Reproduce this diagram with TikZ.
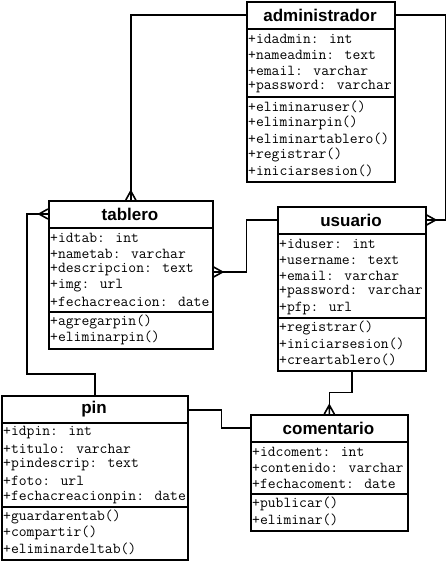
\documentclass[tikz,border=0pt]{standalone}
\usepackage{fontspec}
\newfontfamily\titlefam{Liberation Sans}
\usetikzlibrary{calc}
\tikzset{
  box/.style={draw, line width=1.6pt, inner sep=0pt, fill=white},
  sepline/.style={line width=1.6pt},
  conn/.style={line width=1.6pt},
  ctitle/.style={inner sep=0pt, font=\titlefam\bfseries\fontsize{17}{18}\selectfont},
  row/.style={anchor=west, inner sep=0pt, inner xsep=2pt, font=\ttfamily\fontsize{15.2}{16}\selectfont},
  crow/.pic={\draw[conn] (0,5) -- (9,0) -- (0,-5) (9,0) -- (0,0);}
}
\newcommand\umlclass[9]{%
  \pgfmathsetmacro\hattr{28+16*#6+4}%
  \pgfmathsetmacro\hclass{\hattr+16*#8+4}%
  \node[box, minimum width=#4pt, minimum height=\hclass pt, anchor=north west] (#1) at (#2,#3) {};
  \node[ctitle] (#1-t) at ($(#1.north west)+(#4/2,14)$) {#5};
  \draw[sepline] ($(#1.north west)+(0,28)$) -- ++(#4,0);
  \draw[sepline] ($(#1.north west)+(0,\hattr)$) -- ++(#4,0);
  \foreach \t [count=\i] in {#7} \node[row] (#1-a\i) at ($(#1.north west)+(0,28+16*\i-6)$) {\t};
  \foreach \t [count=\i] in {#9} \node[row] (#1-m\i) at ($(#1.north west)+(0,\hattr+16*\i-6)$) {\t};
}
\begin{document}
\begin{tikzpicture}[x=1pt,y=-1pt]
\fill[white] (0,0) rectangle (447,561);
\useasboundingbox (0,0) rectangle (447,561);
\umlclass{adm}{246}{1}{148}{administrador}{4}{+idadmin: int, +nameadmin: text, +email: varchar, +password: varchar}{5}{+eliminaruser(), +eliminarpin(), +eliminartablero(), +registrar(), +iniciarsesion()}
\umlclass{tab}{48}{200}{164}{tablero}{5}{+idtab: int, +nametab: varchar, +descripcion: text, +img: url, +fechacreacion: date}{2}{+agregarpin(), +eliminarpin()}
\umlclass{usu}{277}{206}{148}{usuario}{5}{+iduser: int, +username: text, +email: varchar, +password: varchar, +pfp: url}{3}{+registrar(), +iniciarsesion(), +creartablero()}
\umlclass{pin}{1}{395}{186}{pin}{5}{+idpin: int, +titulo: varchar, +pindescrip: text, +foto: url, +fechacreacionpin: date}{3}{+guardarentab(), +compartir(), +eliminardeltab()}
\umlclass{com}{250}{414}{157}{comentario}{3}{+idcoment: int, +contenido: varchar, +fechacoment: date}{2}{+publicar(), +eliminar()}
% connectors
\draw[conn] ($(adm.north west)+(0,14)$) -| (tab.north);
\pic[rotate=90] at (tab.north) {crow};
\draw[conn] ($(adm.north east)+(0,14)$) -- ++(50,0) |- ($(usu.north east)+(0,14)$);
\pic at ($(usu.north east)+(0,14)$) {crow};
\draw[conn] ($(tab.north east)+(0,72)$) -- ++(33,0) |- ($(usu.north west)+(0,14)$);
\pic at ($(tab.north east)+(0,72)$) {crow};
\coordinate (k4) at (27,374);
\draw[conn] (pin.north) |- (k4) |- ($(tab.north west)+(0,14)$);
\pic[rotate=180] at ($(tab.north west)+(0,14)$) {crow};
\draw[conn] ($(pin.north east)+(0,15)$) -- ++(33,0) |- ($(com.north west)+(0,14)$);
\draw[conn] (usu.south) -- ++(0,21) -| (com.north);
\pic[rotate=90] at (com.north) {crow};
\end{tikzpicture}
\end{document}
